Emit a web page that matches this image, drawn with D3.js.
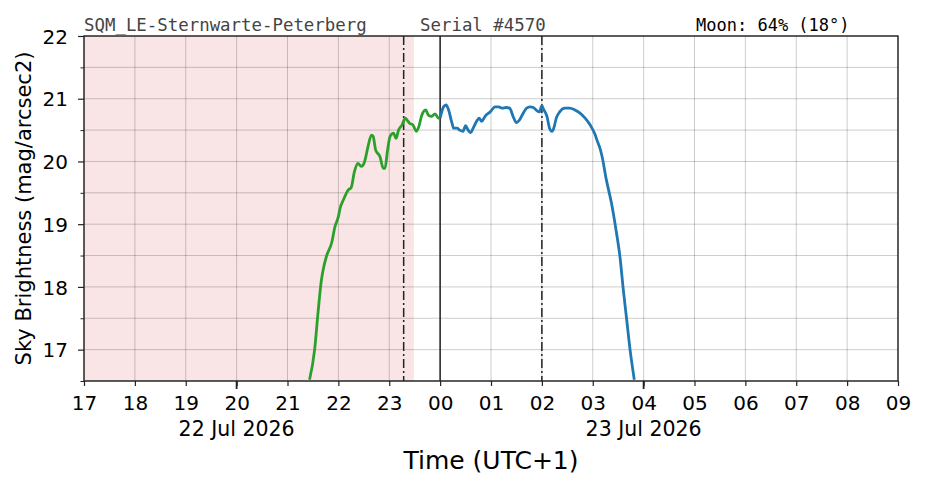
<!DOCTYPE html>
<html><head><meta charset="utf-8">
<script src="https://cdn.jsdelivr.net/npm/d3@7"></script>
<style>body{margin:0;background:#fff}svg{display:block}</style>
</head><body>
<svg id="c" width="926" height="488"></svg>
<script>
// ---- data ----
const titleLeft = "SQM_LE-Sternwarte-Peterberg";
const titleMid = "Serial #4570";
const titleRight = "Moon: 64% (18°)";
const yLabel = "Sky Brightness (mag/arcsec2)";
const xLabel = "Time (UTC+1)";
const dateLabels = [["2026-07-22 20:00", "22 Jul 2026"], ["2026-07-23 04:00", "23 Jul 2026"]];
const yTicks = [17, 18, 19, 20, 21, 22];
const yMinorTicks = [16.5, 17.5, 18.5, 19.5, 20.5, 21.5];
const xDomain = ["2026-07-22 17:00", "2026-07-23 09:00"];
const yDomain = [16.5, 22];
const twilightShade = ["2026-07-22 17:00", "2026-07-22 23:29"];
const dashLines = ["2026-07-22 23:17", "2026-07-23 02:00"];
const midnightLine = "2026-07-23 00:00";

// green: twilight part (22 Jul evening)
const greenTimes = ["21:26","21:32","21:36","21:40","21:42","21:46","21:52","21:56","22:00","22:02","22:06","22:12","22:15","22:19","22:23","22:27","22:31","22:35","22:39","22:41","22:44","22:49","22:53","22:55","22:58","23:01","23:05","23:08","23:11","23:15","23:19","23:21","23:24","23:28","23:32","23:35","23:38","23:43","23:46","23:50","23:54","23:58","00:00"];
const greenValues = [16.52,17.00,17.59,18.11,18.27,18.49,18.70,18.96,19.12,19.25,19.39,19.55,19.58,19.84,19.97,19.92,20.00,20.24,20.42,20.40,20.18,20.08,19.89,19.89,20.18,20.40,20.45,20.37,20.50,20.58,20.69,20.66,20.61,20.58,20.48,20.56,20.72,20.82,20.74,20.72,20.76,20.69,20.69];

// blue: night part (23 Jul)
const blueTimes = ["00:00","00:04","00:07","00:10","00:14","00:16","00:20","00:23","00:27","00:30","00:33","00:36","00:39","00:43","00:46","00:49","00:53","00:59","01:05","01:09","01:13","01:18","01:22","01:26","01:30","01:33","01:38","01:42","01:46","01:50","01:54","01:57","02:00","02:02","02:06","02:09","02:12","02:14","02:17","02:21","02:27","02:33","02:39","02:45","02:51","02:57","03:03","03:05","03:09","03:11","03:16","03:22","03:28","03:32","03:36","03:40","03:44","03:49"];
const blueValues = [20.69,20.87,20.90,20.82,20.61,20.53,20.53,20.50,20.48,20.57,20.50,20.46,20.53,20.64,20.69,20.64,20.72,20.79,20.87,20.87,20.85,20.86,20.85,20.72,20.62,20.65,20.77,20.85,20.87,20.86,20.81,20.79,20.89,20.83,20.72,20.53,20.48,20.53,20.69,20.79,20.85,20.85,20.82,20.77,20.69,20.58,20.42,20.34,20.19,20.08,19.71,19.34,18.86,18.49,17.96,17.48,17.00,16.52];

// ---- helpers ----
const parseFull = d3.timeParse("%Y-%m-%d %H:%M");
function parseHM(s) { // evening hours on 22 Jul, early-morning hours on 23 Jul
  const h = +s.slice(0, 2);
  return parseFull((h >= 12 ? "2026-07-22 " : "2026-07-23 ") + s);
}
const greenData = greenTimes.map((t, i) => ({t: parseHM(t), v: greenValues[i]}));
const blueData = blueTimes.map((t, i) => ({t: parseHM(t), v: blueValues[i]}));

// ---- layout ----
const svg = d3.select("#c");
const m = {l: 84, r: 898, t: 36, b: 381};
const x = d3.scaleTime().domain(xDomain.map(parseFull)).range([m.l, m.r]);
const y = d3.scaleLinear().domain(yDomain).range([m.b, m.t]);
const font = "DejaVu Sans, sans-serif";
const ink = "#222";

svg.append("defs").append("clipPath").attr("id", "clip")
  .append("rect").attr("x", m.l).attr("y", m.t).attr("width", m.r - m.l).attr("height", m.b - m.t);

// shade
svg.append("rect")
  .attr("x", x(parseFull(twilightShade[0]))).attr("y", m.t)
  .attr("width", x(parseFull(twilightShade[1])) - x(parseFull(twilightShade[0])))
  .attr("height", m.b - m.t).attr("fill", "rgb(249,229,229)");

// grid
const hours = x.ticks(d3.timeHour.every(1));
svg.append("g").selectAll("line").data(hours).join("line")
  .attr("x1", d => x(d)).attr("x2", d => x(d)).attr("y1", m.t).attr("y2", m.b)
  .attr("stroke", "#000").attr("stroke-opacity", 0.25).attr("stroke-width", 0.8);
svg.append("g").selectAll("line").data(yTicks.concat(yMinorTicks)).join("line")
  .attr("x1", m.l).attr("x2", m.r).attr("y1", d => y(d)).attr("y2", d => y(d))
  .attr("stroke", "#000").attr("stroke-opacity", 0.25).attr("stroke-width", 0.8);

// vertical markers
svg.append("g").selectAll("line").data(dashLines).join("line")
  .attr("x1", d => x(parseFull(d))).attr("x2", d => x(parseFull(d))).attr("y1", m.t).attr("y2", m.b)
  .attr("stroke", ink).attr("stroke-width", 1.5).attr("stroke-dasharray", "9,3,2,3");
svg.append("line")
  .attr("x1", x(parseFull(midnightLine))).attr("x2", x(parseFull(midnightLine))).attr("y1", m.t).attr("y2", m.b)
  .attr("stroke", ink).attr("stroke-width", 1.5);

// lines
const line = d3.line().x(d => x(d.t)).y(d => y(d.v)).curve(d3.curveMonotoneX);
const g = svg.append("g").attr("clip-path", "url(#clip)");
g.append("path").datum(greenData).attr("d", line).attr("fill", "none")
  .attr("stroke", "#2ca02c").attr("stroke-width", 2.8).attr("stroke-linejoin", "round");
g.append("path").datum(blueData).attr("d", line).attr("fill", "none")
  .attr("stroke", "#1f77b4").attr("stroke-width", 2.8).attr("stroke-linejoin", "round");

// frame
svg.append("rect").attr("x", m.l).attr("y", m.t).attr("width", m.r - m.l).attr("height", m.b - m.t)
  .attr("fill", "none").attr("stroke", ink).attr("stroke-width", 1.4);

// axes
const xAxis = svg.append("g").attr("transform", `translate(0,${m.b})`)
  .call(d3.axisBottom(x).ticks(d3.timeHour.every(1)).tickFormat(d3.timeFormat("%H")).tickSize(5).tickPadding(6));
xAxis.selectAll("text").attr("y", 29).attr("dy", null);
// date (major) ticks
svg.append("g").selectAll("line").data(dateLabels).join("line")
  .attr("x1", d => x(parseFull(d[0]))).attr("x2", d => x(parseFull(d[0])))
  .attr("y1", m.b).attr("y2", m.b + 8).attr("stroke", ink).attr("stroke-width", 1.8);

const yAxis = svg.append("g").attr("transform", `translate(${m.l},0)`)
  .call(d3.axisLeft(y).tickValues(yTicks).tickFormat(d3.format("d")).tickSize(6).tickPadding(10));
yAxis.selectAll("text").attr("dy", "0.36em");
svg.append("g").attr("transform", `translate(${m.l},0)`)
  .call(d3.axisLeft(y).tickValues(yMinorTicks).tickFormat("").tickSize(3.5))
  .call(a => a.select(".domain").remove())
  .selectAll("line").attr("stroke", ink).attr("stroke-width", 1);
[xAxis, yAxis].forEach(a => {
  a.select(".domain").remove();
  a.selectAll("line").attr("stroke", ink).attr("stroke-width", 1.2);
  a.selectAll("text").attr("font-family", font).attr("font-size", 20).attr("fill", "#000");
});

// date labels
svg.append("g").selectAll("text").data(dateLabels).join("text")
  .attr("x", d => x(parseFull(d[0]))).attr("y", 436).attr("text-anchor", "middle")
  .attr("font-family", font).attr("font-size", 20.5).text(d => d[1]);

// axis titles
svg.append("text").attr("x", 491).attr("y", 469).attr("text-anchor", "middle")
  .attr("font-family", font).attr("font-size", 25).text(xLabel);
svg.append("text").attr("transform", `translate(31,${(m.t + m.b) / 2}) rotate(-90)`)
  .attr("text-anchor", "middle").attr("font-family", font).attr("font-size", 21).text(yLabel);

// header
const mono = "DejaVu Sans Mono, monospace";
svg.append("text").attr("x", 84).attr("y", 31).attr("font-family", mono).attr("font-size", 17.4).attr("fill", "#444").text(titleLeft);
svg.append("text").attr("x", 420).attr("y", 31).attr("font-family", mono).attr("font-size", 17.4).attr("fill", "#444").text(titleMid);
svg.append("text").attr("x", 696).attr("y", 31).attr("font-family", mono).attr("font-size", 17).attr("fill", "#000").text(titleRight);
</script>
</body></html>
